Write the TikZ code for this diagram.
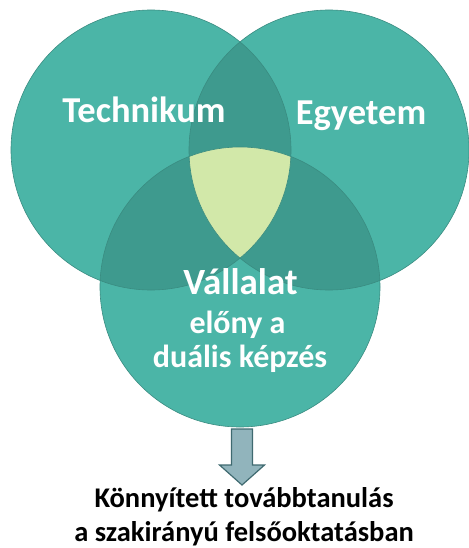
\documentclass[tikz,border=0pt]{standalone}
\usepackage{fontspec}
\setmainfont{Carlito}
\usetikzlibrary{calc}
\begin{document}
\begin{tikzpicture}[x=1pt,y=-1pt,
  venn/.style={fill=tealmain},
  rim/.style={draw=tealrim,line width=0.6pt},
  lbl/.style={text=white,font=\bfseries,anchor=base,inner sep=0pt},
  restext/.style={text=black,font=\bfseries\fontsize{28.5}{32}\selectfont,anchor=base,inner sep=0pt}]
\definecolor{tealmain}{HTML}{4BB5A7}
\definecolor{tealdark}{HTML}{3E9A8E}
\definecolor{tealrim}{HTML}{3A8C81}
\definecolor{core}{HTML}{D2E8A9}
\definecolor{arrowfill}{HTML}{91B4BC}
\definecolor{arrowrim}{HTML}{3F6A70}
\useasboundingbox (0,0) rectangle (468,548);
\coordinate (L) at (151,150);
\coordinate (R) at (329,150);
\coordinate (B) at (240,287);
\def\rr{140pt}
% base circles
\fill[venn] (L) circle[radius=\rr];
\fill[venn] (R) circle[radius=\rr];
\fill[venn] (B) circle[radius=\rr];
% pairwise overlaps
\begin{scope}\clip (L) circle[radius=\rr]; \fill[tealdark] (R) circle[radius=\rr]; \end{scope}
\begin{scope}\clip (L) circle[radius=\rr]; \fill[tealdark] (B) circle[radius=\rr]; \end{scope}
\begin{scope}\clip (R) circle[radius=\rr]; \fill[tealdark] (B) circle[radius=\rr]; \end{scope}
% triple overlap
\begin{scope}\clip (L) circle[radius=\rr]; \clip (R) circle[radius=\rr]; \fill[core] (B) circle[radius=\rr]; \end{scope}
% rims
\draw[rim] (L) circle[radius=\rr];
\draw[rim] (R) circle[radius=\rr];
\draw[rim] (B) circle[radius=\rr];
% labels
\node[lbl,font=\bfseries\fontsize{36.5}{40}\selectfont] (tech) at (144,123) {Technikum};
\node[lbl,font=\bfseries\fontsize{36.5}{40}\selectfont] (egy) at (361,125) {Egyetem};
\node[lbl,font=\bfseries\fontsize{37}{40}\selectfont] (vall) at (240.5,294) {Vállalat};
\node[lbl,font=\bfseries\fontsize{32}{36}\selectfont] (elony) at (237.5,333) {előny a};
\node[lbl,font=\bfseries\fontsize{32}{36}\selectfont] (dual) at (240,367) {duális képzés};
% block arrow
\coordinate (atop) at (242,429);
\coordinate (atip) at (242,485);
\draw[arrowrim,fill=arrowfill,line width=1.2pt,line join=miter]
  ($(atop)+(-10.5,0)$) -- ($(atop)+(10.5,0)$) -- ($(atop)+(10.5,36)$) -- ($(atop)+(22.5,36)$)
  -- (atip) -- ($(atop)+(-22.5,36)$) -- ($(atop)+(-10.5,36)$) -- cycle;
% result text
\node[restext] (res1) at (244,507) {Könnyített továbbtanulás};
\node[restext] (res2) at (244,541) {a szakirányú felsőoktatásban};
\end{tikzpicture}
\end{document}
